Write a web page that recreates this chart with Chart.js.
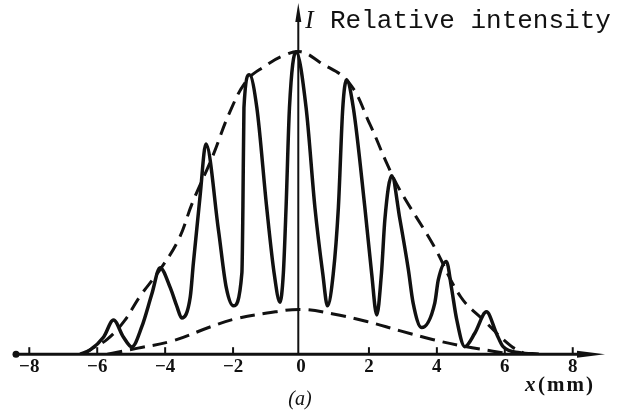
<!DOCTYPE html>
<html lang="en">
<head>
    <meta charset="UTF-8">
    <title>Relative intensity vs x</title>
    <script src="https://cdn.jsdelivr.net/npm/chart.js"></script>
    <style>
        html, body { margin: 0; padding: 0; background: #fff; }
        canvas { display: block; }
    </style>
</head>
<body>
    <canvas id="myChart" width="621" height="413"></canvas>

    <script>
        // x positions (mm) and relative intensity
        const fringeX = [-6.5, -6.2, -5.81, -5.52, -5.23, -4.98, -4.69, -4.39, -4.15, -3.85, -3.66, -3.51, -3.26, -3.17, -2.97, -2.8,
                         -2.43, -2.2, -1.99, -1.74, -1.71, -1.68, -1.52, -1.3, -1.01, -0.79, -0.62, -0.52, -0.44, -0.34, -0.15,
                         0.15, 0.41, 0.64, 0.78, 0.95, 1.1, 1.23, 1.34, 1.54, 1.88, 2.08, 2.23, 2.37, 2.47, 2.67, 2.91, 3.16, 3.3,
                         3.55, 3.94, 4.04, 4.28, 4.43, 4.58, 4.82, 5.12, 5.46, 5.76, 5.95, 6.44, 7.0];
        const fringeI = [0, 0.015, 0.057, 0.113, 0.057, 0.024, 0.09, 0.2, 0.286, 0.22, 0.16, 0.12, 0.19, 0.3, 0.525, 0.695,
                         0.41, 0.22, 0.16, 0.27, 0.49, 0.815, 0.924, 0.815, 0.485, 0.267, 0.172, 0.267, 0.485, 0.815, 1.0,
                         0.815, 0.485, 0.267, 0.16, 0.267, 0.485, 0.815, 0.907, 0.815, 0.485, 0.267, 0.13, 0.27, 0.447, 0.59, 0.447, 0.28, 0.17,
                         0.088, 0.17, 0.245, 0.307, 0.22, 0.117, 0.025, 0.07, 0.14, 0.067, 0.025, 0.005, 0];

        const upperX = [-6.4, -6.2, -5.7, -5.2, -4.75, -4.15, -3.6, -3.2, -2.6, -2.1, -1.6, -1.1, -0.5, 0, 0.56, 1.4, 2.03, 2.53, 2.9, 3.9, 4.7, 5.4, 6.15, 6.6];
        const upperI = [0, 0.015, 0.05, 0.11, 0.19, 0.28, 0.38, 0.5, 0.655, 0.8, 0.905, 0.95, 0.988, 1.0, 0.965, 0.9, 0.76, 0.63, 0.545, 0.36, 0.19, 0.11, 0.03, 0];

        const lowerX = [-5.7, -4.8, -3.75, -2.68, -2.0, -1.0, 0, 0.95, 1.94, 2.9, 3.9, 4.8, 5.65, 6.2];
        const lowerI = [0, 0.02, 0.045, 0.09, 0.115, 0.136, 0.148, 0.133, 0.108, 0.078, 0.048, 0.026, 0.01, 0];

        const xTickValues = [-8, -6, -4, -2, 0, 2, 4, 6, 8];
        const xTickLabels = ['\u22128', '\u22126', '\u22124', '\u22122', '0', '2', '4', '6', '8'];

        const toPoints = (xs, ys) => xs.map((x, i) => ({ x: x, y: ys[i] }));

        const ink = '#111';

        // axes, arrows, small ticks and the extra labels
        const decorations = {
            id: 'decorations',
            afterDatasetsDraw(chart) {
                const ctx = chart.ctx;
                const xs = chart.scales.x;
                const ys = chart.scales.y;
                const base = ys.getPixelForValue(0);
                const left = chart.chartArea.left;
                const right = chart.chartArea.right;
                ctx.save();
                ctx.strokeStyle = ink;
                ctx.fillStyle = ink;

                // baseline
                ctx.lineWidth = 3;
                ctx.beginPath();
                ctx.moveTo(left, base);
                ctx.lineTo(right - 20, base);
                ctx.stroke();
                ctx.beginPath();
                ctx.arc(left + 2, base, 3.5, 0, Math.PI * 2);
                ctx.fill();
                ctx.beginPath();
                ctx.moveTo(right - 28, base - 3.5);
                ctx.lineTo(right, base);
                ctx.lineTo(right - 28, base + 3.5);
                ctx.closePath();
                ctx.fill();

                // ticks pointing up
                ctx.lineWidth = 2;
                xTickValues.forEach(v => {
                    if (v === 0) return;
                    const px = xs.getPixelForValue(v);
                    ctx.beginPath();
                    ctx.moveTo(px, base);
                    ctx.lineTo(px, base - 7);
                    ctx.stroke();
                });

                // vertical axis with arrow
                const ax = xs.getPixelForValue(-0.08);
                ctx.lineWidth = 2;
                ctx.beginPath();
                ctx.moveTo(ax, base);
                ctx.lineTo(ax, chart.chartArea.top + 8);
                ctx.stroke();
                ctx.beginPath();
                ctx.moveTo(ax, chart.chartArea.top - 5);
                ctx.lineTo(ax + 3, chart.chartArea.top + 14);
                ctx.lineTo(ax - 3, chart.chartArea.top + 14);
                ctx.closePath();
                ctx.fill();

                // header text
                ctx.textBaseline = 'alphabetic';
                ctx.textAlign = 'left';
                ctx.font = 'italic 25px "Liberation Serif"';
                ctx.fillText('I', ax + 7, 28);
                ctx.font = '26px "Liberation Mono"';
                ctx.fillText('Relative intensity', 330, 28);

                // axis name
                ctx.letterSpacing = '2px';
                ctx.font = 'bold italic 21px "Liberation Serif"';
                ctx.fillText('x', 525, 391);
                ctx.font = 'bold 21px "Liberation Serif"';
                ctx.fillText('(mm)', 538, 391);
                ctx.letterSpacing = '0px';

                // panel label
                ctx.textAlign = 'center';
                ctx.font = 'italic 20px "Liberation Serif"';
                ctx.fillText('(a)', 300, 405);
                ctx.restore();
            }
        };

        const ctx = document.getElementById('myChart').getContext('2d');
        const myChart = new Chart(ctx, {
            type: 'line',
            data: {
                datasets: [
                    {
                        label: 'Intensity',
                        data: toPoints(fringeX, fringeI),
                        borderColor: ink,
                        borderWidth: 3.5,
                        pointRadius: 0,
                        fill: false,
                        cubicInterpolationMode: 'monotone'
                    },
                    {
                        label: 'Upper envelope',
                        data: toPoints(upperX, upperI),
                        borderColor: ink,
                        borderWidth: 3,
                        borderDash: [14, 8],
                        pointRadius: 0,
                        fill: false,
                        tension: 0.4
                    },
                    {
                        label: 'Lower envelope',
                        data: toPoints(lowerX, lowerI),
                        borderColor: ink,
                        borderWidth: 3,
                        borderDash: [15, 8],
                        pointRadius: 0,
                        fill: false,
                        tension: 0.4
                    }
                ]
            },
            options: {
                responsive: false,
                animation: false,
                layout: {
                    padding: { left: 14, right: 16, top: 8, bottom: 34 }
                },
                plugins: {
                    legend: { display: false },
                    tooltip: { enabled: false }
                },
                scales: {
                    x: {
                        type: 'linear',
                        min: -8.45,
                        max: 8.95,
                        afterBuildTicks: axis => {
                            axis.ticks = xTickValues.map(v => ({ value: v }));
                        },
                        grid: { display: false, drawTicks: false },
                        border: { display: false },
                        ticks: {
                            padding: 1,
                            color: ink,
                            maxRotation: 0,
                            autoSkip: false,
                            font: { family: 'Liberation Serif', size: 19, weight: 'bold' },
                            callback: (value) => {
                                const i = xTickValues.indexOf(value);
                                return i >= 0 ? xTickLabels[i] : '';
                            }
                        }
                    },
                    y: {
                        display: false,
                        min: 0,
                        max: 1.145
                    }
                }
            },
            plugins: [decorations]
        });
    </script>
</body>
</html>
